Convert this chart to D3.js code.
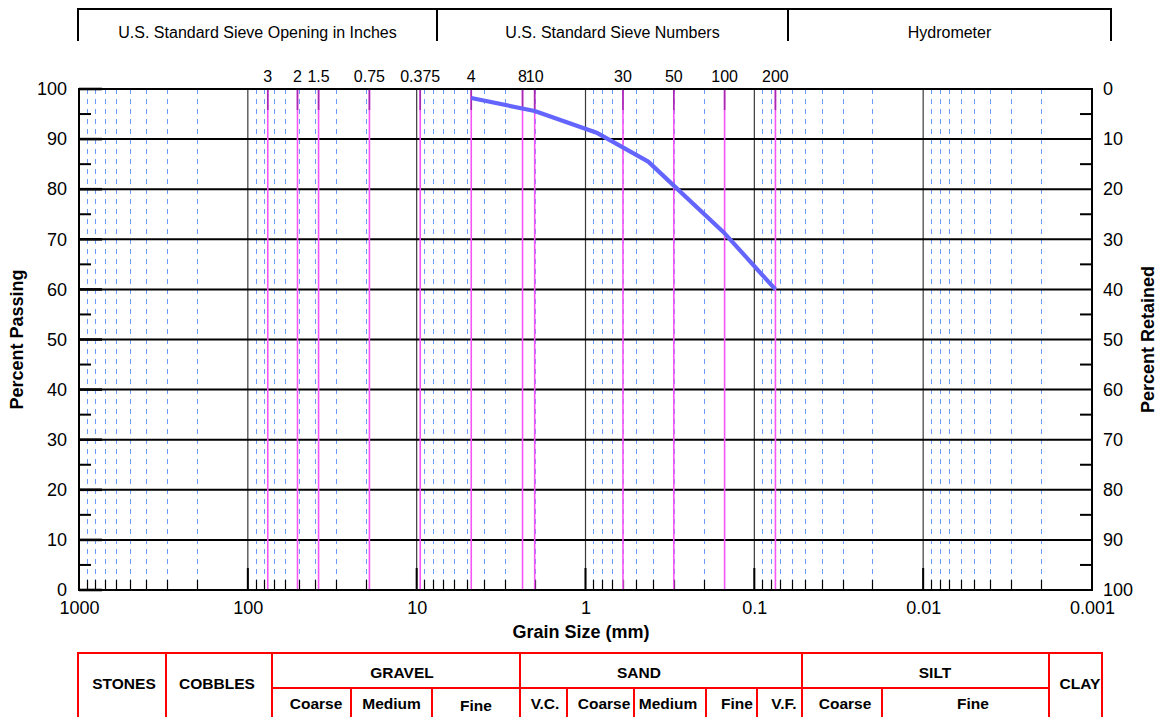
<!DOCTYPE html>
<html>
<head>
<meta charset="utf-8">
<script src="https://cdn.jsdelivr.net/npm/d3@7"></script>
<style>
  html, body { margin: 0; padding: 0; background: #fff; }
  svg { display: block; font-family: "Liberation Sans", Arial, Helvetica, sans-serif; }
</style>
</head>
<body>
<svg id="chart" width="1158" height="717"></svg>
<script>
// Grain size distribution data
const gradationSizesMm = [4.75, 2.0, 0.85, 0.425, 0.15, 0.075];
const percentPassing   = [98.2, 95.6, 91.2, 85.5, 71.2, 60.0];

// Sieves marked across the plot
const sieveSizesMm = [76.2, 50.8, 38.1, 19.05, 9.525, 4.75, 2.36, 2.0, 0.6, 0.3, 0.15, 0.075];
const sieveLabels  = ["3", "2", "1.5", "0.75", "0.375", "4", "8", "10", "30", "50", "100", "200"];

// Axis ticks
const xTickValues = [1000, 100, 10, 1, 0.1, 0.01, 0.001];
const xTickLabels = ["1000", "100", "10", "1", "0.1", "0.01", "0.001"];
const yTickValues = [0, 10, 20, 30, 40, 50, 60, 70, 80, 90, 100];

// Header groups above the plot
const headerGroups = ["U.S. Standard Sieve Opening in Inches", "U.S. Standard Sieve Numbers", "Hydrometer"];

// Soil classification table
const soilGroups = ["STONES", "COBBLES", "GRAVEL", "SAND", "SILT", "CLAY"];
const soilSubGroups = [
  { group: "GRAVEL", names: ["Coarse", "Medium", "Fine"] },
  { group: "SAND",   names: ["V.C.", "Coarse", "Medium", "Fine", "V.F."] },
  { group: "SILT",   names: ["Coarse", "Fine"] }
];

// ---- layout ----
const plot = { left: 79, right: 1092, top: 89, bottom: 590 };
const headerLayout = { top: 9, bottom: 41, edges: [78, 437, 788, 1111], textY: 32 };
const tableLayout = {
  top: 653, mid: 688, bottom: 722,
  groupEdges: [78, 166, 272, 520, 802, 1049, 1102],
  groupTextX: [124, 217, 402, 639, 935, 1080],
  subEdges: {
    GRAVEL: [272, 351, 432, 520],
    SAND:   [520, 567, 634, 706, 757, 802],
    SILT:   [802, 882, 1049]
  },
  subTextX: {
    GRAVEL: [316, 391.5, 476],
    SAND:   [545, 604, 668, 737, 784],
    SILT:   [845, 973]
  }
};

const svg = d3.select("#chart");

const x = d3.scaleLog().domain([1000, 0.001]).range([plot.left, plot.right]);
const y = d3.scaleLinear().domain([0, 100]).range([plot.bottom, plot.top]);
const yRet = d3.scaleLinear().domain([100, 0]).range([plot.bottom, plot.top]);

// minor log lines (2..9 within each decade)
const minorX = x.ticks().filter(v => {
  const l = Math.log10(v);
  return Math.abs(l - Math.round(l)) > 1e-6;
});
const decadeX = xTickValues.filter(v => v < 1000 && v > 0.001);

const grid = svg.append("g");

grid.selectAll("line.minor").data(minorX).enter().append("line")
  .attr("class", "minor")
  .attr("x1", d => Math.round(x(d)) + 0.5).attr("x2", d => Math.round(x(d)) + 0.5)
  .attr("y1", plot.top).attr("y2", plot.bottom)
  .attr("stroke", "#6b9bf7").attr("stroke-width", 1)
  .attr("stroke-dasharray", "5,5");

// short black ticks along the bottom for minor lines
grid.selectAll("line.minortick").data(minorX).enter().append("line")
  .attr("x1", d => Math.round(x(d)) + 0.5).attr("x2", d => Math.round(x(d)) + 0.5)
  .attr("y1", plot.bottom - 10).attr("y2", plot.bottom)
  .attr("stroke", "#000").attr("stroke-width", 1.2);

// decade lines
grid.selectAll("line.decade").data(decadeX).enter().append("line")
  .attr("x1", d => x(d)).attr("x2", d => x(d))
  .attr("y1", plot.top).attr("y2", plot.bottom)
  .attr("stroke", "#3a3a3a").attr("stroke-width", 1.2);
grid.selectAll("line.decadetick").data(decadeX).enter().append("line")
  .attr("x1", d => x(d)).attr("x2", d => x(d))
  .attr("y1", plot.bottom - 22).attr("y2", plot.bottom)
  .attr("stroke", "#000").attr("stroke-width", 2);

// horizontal gridlines
grid.selectAll("line.h").data(yTickValues.filter(v => v > 0 && v < 100)).enter().append("line")
  .attr("x1", plot.left).attr("x2", plot.right)
  .attr("y1", d => y(d)).attr("y2", d => y(d))
  .attr("stroke", "#000").attr("stroke-width", 2);

// minor y ticks at the fives
const y5 = d3.range(5, 100, 10);
grid.selectAll("line.ly5").data(y5).enter().append("line")
  .attr("x1", plot.left).attr("x2", plot.left + 12)
  .attr("y1", d => y(d)).attr("y2", d => y(d))
  .attr("stroke", "#000").attr("stroke-width", 2);
grid.selectAll("line.ry5").data(y5).enter().append("line")
  .attr("x1", plot.right - 12).attr("x2", plot.right)
  .attr("y1", d => y(d)).attr("y2", d => y(d))
  .attr("stroke", "#000").attr("stroke-width", 2);
grid.selectAll("line.ly10").data(yTickValues).enter().append("line")
  .attr("x1", plot.left).attr("x2", plot.left + 23)
  .attr("y1", d => y(d)).attr("y2", d => y(d))
  .attr("stroke", "#000").attr("stroke-width", 2.6);

// sieve lines
const sieves = svg.append("g");
sieves.selectAll("line.sieve").data(sieveSizesMm).enter().append("line")
  .attr("x1", d => x(d)).attr("x2", d => x(d))
  .attr("y1", plot.top).attr("y2", plot.bottom)
  .attr("stroke", "#f655f6").attr("stroke-width", 1.6);
sieves.selectAll("line.sievetop").data(sieveSizesMm).enter().append("line")
  .attr("x1", d => x(d)).attr("x2", d => x(d))
  .attr("y1", plot.top).attr("y2", plot.top + 21)
  .attr("stroke", "#a62ab0").attr("stroke-width", 1.6);
sieves.selectAll("text").data(sieveSizesMm).enter().append("text")
  .attr("x", d => x(d)).attr("y", 76)
  .attr("text-anchor", "middle").attr("dominant-baseline", "central")
  .attr("font-size", 16).attr("fill", "#000")
  .text((d, i) => sieveLabels[i]);

// plot frame
svg.append("rect")
  .attr("x", plot.left).attr("y", plot.top)
  .attr("width", plot.right - plot.left).attr("height", plot.bottom - plot.top)
  .attr("fill", "none").attr("stroke", "#000").attr("stroke-width", 2);

// gradation curve
const line = d3.line().x(d => x(d[0])).y(d => y(d[1]));
svg.append("path")
  .datum(gradationSizesMm.map((s, i) => [s, percentPassing[i]]))
  .attr("d", line)
  .attr("fill", "none").attr("stroke", "#6464ff").attr("stroke-width", 4.2)
  .attr("stroke-linejoin", "round");

// axes labels
const xAxis = d3.axisBottom(x).tickValues(xTickValues)
  .tickFormat((d, i) => xTickLabels[i]).tickSize(0).tickPadding(11);
const gx = svg.append("g").attr("transform", `translate(0,${plot.bottom})`).call(xAxis);
gx.select(".domain").remove();
gx.selectAll("text").attr("font-size", 18).attr("fill", "#000").attr("font-family", null);

const yAxis = d3.axisLeft(y).tickValues(yTickValues).tickSize(0).tickPadding(12);
const gy = svg.append("g").attr("transform", `translate(${plot.left},0)`).call(yAxis);
gy.select(".domain").remove();
gy.selectAll("text").attr("font-size", 18).attr("fill", "#000").attr("font-family", null);

const yAxisR = d3.axisRight(yRet).tickValues(yTickValues).tickSize(0).tickPadding(11);
const gyr = svg.append("g").attr("transform", `translate(${plot.right},0)`).call(yAxisR);
gyr.select(".domain").remove();
gyr.selectAll("text").attr("font-size", 18).attr("fill", "#000").attr("font-family", null);

svg.append("text")
  .attr("x", 581).attr("y", 632).attr("text-anchor", "middle").attr("dominant-baseline", "central")
  .attr("font-size", 18).attr("font-weight", "bold").text("Grain Size (mm)");
svg.append("text")
  .attr("transform", `translate(17,${(plot.top + plot.bottom) / 2}) rotate(-90)`)
  .attr("text-anchor", "middle").attr("dominant-baseline", "central")
  .attr("font-size", 18).attr("font-weight", "bold").text("Percent Passing");
svg.append("text")
  .attr("transform", `translate(1148,${(plot.top + plot.bottom) / 2}) rotate(-90)`)
  .attr("text-anchor", "middle").attr("dominant-baseline", "central")
  .attr("font-size", 18).attr("font-weight", "bold").text("Percent Retained");

// header boxes
const hdr = svg.append("g");
hdr.append("line")
  .attr("x1", headerLayout.edges[0]).attr("x2", headerLayout.edges[headerLayout.edges.length - 1])
  .attr("y1", headerLayout.top).attr("y2", headerLayout.top)
  .attr("stroke", "#000").attr("stroke-width", 2);
hdr.selectAll("line.v").data(headerLayout.edges).enter().append("line")
  .attr("x1", d => d).attr("x2", d => d)
  .attr("y1", headerLayout.top - 1).attr("y2", headerLayout.bottom)
  .attr("stroke", "#000").attr("stroke-width", 2);
hdr.selectAll("text").data(headerGroups).enter().append("text")
  .attr("x", (d, i) => (headerLayout.edges[i] + headerLayout.edges[i + 1]) / 2)
  .attr("y", headerLayout.textY)
  .attr("text-anchor", "middle").attr("dominant-baseline", "central")
  .attr("font-size", 16).text(d => d);

// classification table
const tbl = svg.append("g").attr("stroke", "#ff0000").attr("stroke-width", 2);
const ge = tableLayout.groupEdges;
tbl.append("line").attr("x1", ge[0]).attr("x2", ge[ge.length - 1])
  .attr("y1", tableLayout.top).attr("y2", tableLayout.top);
tbl.append("line").attr("x1", ge[0]).attr("x2", ge[ge.length - 1])
  .attr("y1", tableLayout.bottom).attr("y2", tableLayout.bottom);
tbl.append("line").attr("x1", ge[2]).attr("x2", ge[5])
  .attr("y1", tableLayout.mid).attr("y2", tableLayout.mid);
tbl.selectAll("line.ge").data(ge).enter().append("line")
  .attr("x1", d => d).attr("x2", d => d)
  .attr("y1", tableLayout.top - 1).attr("y2", tableLayout.bottom);
soilSubGroups.forEach(sg => {
  const edges = tableLayout.subEdges[sg.group];
  tbl.selectAll(null).data(edges.slice(1, -1)).enter().append("line")
    .attr("x1", d => d).attr("x2", d => d)
    .attr("y1", tableLayout.mid).attr("y2", tableLayout.bottom);
});

const tblText = svg.append("g").attr("font-size", 15.5).attr("font-weight", "bold")
  .attr("text-anchor", "middle").attr("dominant-baseline", "central").attr("fill", "#000");
soilGroups.forEach((name, i) => {
  const split = soilSubGroups.some(s => s.group === name);
  tblText.append("text").attr("x", tableLayout.groupTextX[i]).attr("y", split ? 672 : 683).text(name);
});
soilSubGroups.forEach(sg => {
  const xs = tableLayout.subTextX[sg.group];
  sg.names.forEach((n, i) => {
    tblText.append("text")
      .attr("x", xs[i])
      .attr("y", sg.group === "GRAVEL" && n === "Fine" ? 705 : 703)
      .text(n);
  });
});
</script>
</body>
</html>
